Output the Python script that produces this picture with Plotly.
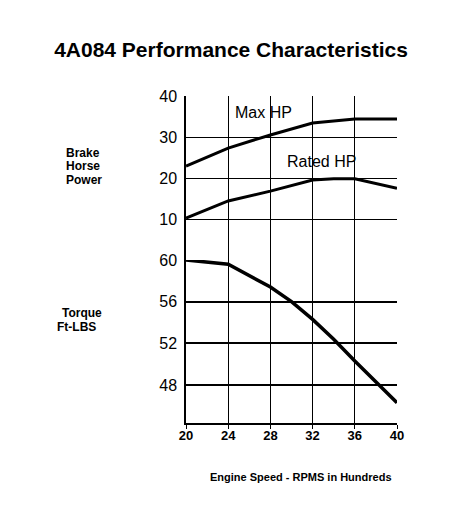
import plotly.graph_objects as go

# ---- data ----
rpm_ticks = [20, 24, 28, 32, 36, 40]
hp_ticks = [10, 20, 30, 40]
torque_ticks = [48, 52, 56, 60]

max_hp_rpm = [20, 24, 28, 32, 36, 40]
max_hp = [22.9, 27.3, 30.5, 33.4, 34.4, 34.4]

rated_hp_rpm = [20, 24, 28, 32, 34, 36, 40]
rated_hp = [10.2, 14.4, 16.8, 19.5, 19.8, 19.8, 17.5]

torque_rpm = [20, 24, 28, 30, 32, 34, 36, 38, 40]
torque = [60.0, 59.6, 57.4, 56.0, 54.3, 52.4, 50.3, 48.3, 46.3]

FONT = "Liberation Sans, Arial, sans-serif"
W, H = 464, 509
OFF = 8  # page body margin
PL, PR, PT, PB = 186, 397, 96, 423  # plot area in page pixels
L, T = PL - OFF, PT - OFF
R = W + OFF - PR
B = H + OFF - PB
split = (PB - 260) / float(PB - PT)

fig = go.Figure()
fig.add_trace(go.Scatter(x=max_hp_rpm, y=max_hp, mode="lines", xaxis="x2", yaxis="y",
                         line=dict(color="black", width=3), showlegend=False))
fig.add_trace(go.Scatter(x=rated_hp_rpm, y=rated_hp, mode="lines", xaxis="x2", yaxis="y",
                         line=dict(color="black", width=3), showlegend=False))
fig.add_trace(go.Scatter(x=torque_rpm, y=torque, mode="lines", xaxis="x", yaxis="y2",
                         line=dict(color="black", width=3.5), showlegend=False))
# invisible trace to activate the grid axis
fig.add_trace(go.Scatter(x=[20], y=[0], mode="markers", xaxis="x2", yaxis="y3",
                         marker=dict(opacity=0), showlegend=False, hoverinfo="skip"))


def px2paper_x(px):
    return (px - PL) / float(PR - PL)


def px2paper_y(py):
    return (PB - py) / float(PB - PT)


fig.update_layout(
    width=W, height=H,
    margin=dict(l=L, r=R, t=T, b=B, pad=0),
    paper_bgcolor="white", plot_bgcolor="white",
    font=dict(family=FONT, color="black"),
    title=dict(text="<b>4A084 Performance Characteristics</b>",
               x=(231 - OFF) / W, xanchor="center",
               y=1 - (50 - OFF) / H, yanchor="middle",
               font=dict(size=21, family=FONT, color="black")),
    xaxis=dict(domain=[0, 1], anchor="y2", range=[20, 40], tickvals=rpm_ticks,
               ticktext=[f"<b>{v}</b>" for v in rpm_ticks],
               showgrid=True, gridcolor="black", gridwidth=1,
               showline=True, linecolor="black", linewidth=1.5,
               ticks="outside", ticklen=4, tickcolor="black", tickwidth=1,
               ticklabelstandoff=-4,
               tickfont=dict(size=13, family=FONT), zeroline=False),
    xaxis2=dict(domain=[0, 1], anchor="y", matches="x", range=[20, 40],
                tickvals=rpm_ticks[1:], showgrid=True, gridcolor="black", gridwidth=1,
                showticklabels=False, showline=False, zeroline=False),
    yaxis=dict(domain=[split, 1], anchor="x2", range=[0, 40], tickvals=hp_ticks,
               showgrid=False, showline=True, linecolor="black", linewidth=1.5,
               ticks="", ticklabelstandoff=4, tickfont=dict(size=16, family=FONT),
               zeroline=False),
    yaxis3=dict(overlaying="y", anchor="x2", range=[0, 40], tickvals=hp_ticks[:-1],
                showgrid=True, gridcolor="black", gridwidth=1,
                showticklabels=False, showline=False, zeroline=False),
    yaxis2=dict(domain=[0, split], anchor="x", range=[44.35, 60], tickvals=torque_ticks,
                showgrid=True, gridcolor="black", gridwidth=1.5,
                showline=True, linecolor="black", linewidth=1.5,
                ticks="", ticklabelstandoff=4, tickfont=dict(size=16, family=FONT),
                zeroline=False),
)

annots = [
    dict(text="Max HP", x=27.3, y=35.9, xref="x2", yref="y", font=dict(size=16)),
    dict(text="Rated HP", x=32.8, y=24.1, xref="x2", yref="y", font=dict(size=16)),
]
for a in annots:
    a.update(showarrow=False, xanchor="center", yanchor="middle")
    fig.add_annotation(**a)

side_labels = [
    ("Brake", 64, 152.7), ("Horse", 64, 166), ("Power", 64, 180),
    ("Torque", 60, 313), ("Ft-LBS", 55, 327),
]
for txt, px, py in side_labels:
    fig.add_annotation(text=f"<b>{txt}</b>", x=px2paper_x(px), y=px2paper_y(py),
                       xref="paper", yref="paper", xanchor="left", yanchor="middle",
                       showarrow=False, font=dict(size=12, family=FONT))

fig.add_annotation(text="<b>Engine Speed - RPMS in Hundreds</b>", x=px2paper_x(301),
                   y=px2paper_y(477), xref="paper", yref="paper", xanchor="center",
                   yanchor="middle", showarrow=False, font=dict(size=11, family=FONT))

fig.write_html("out.html")
